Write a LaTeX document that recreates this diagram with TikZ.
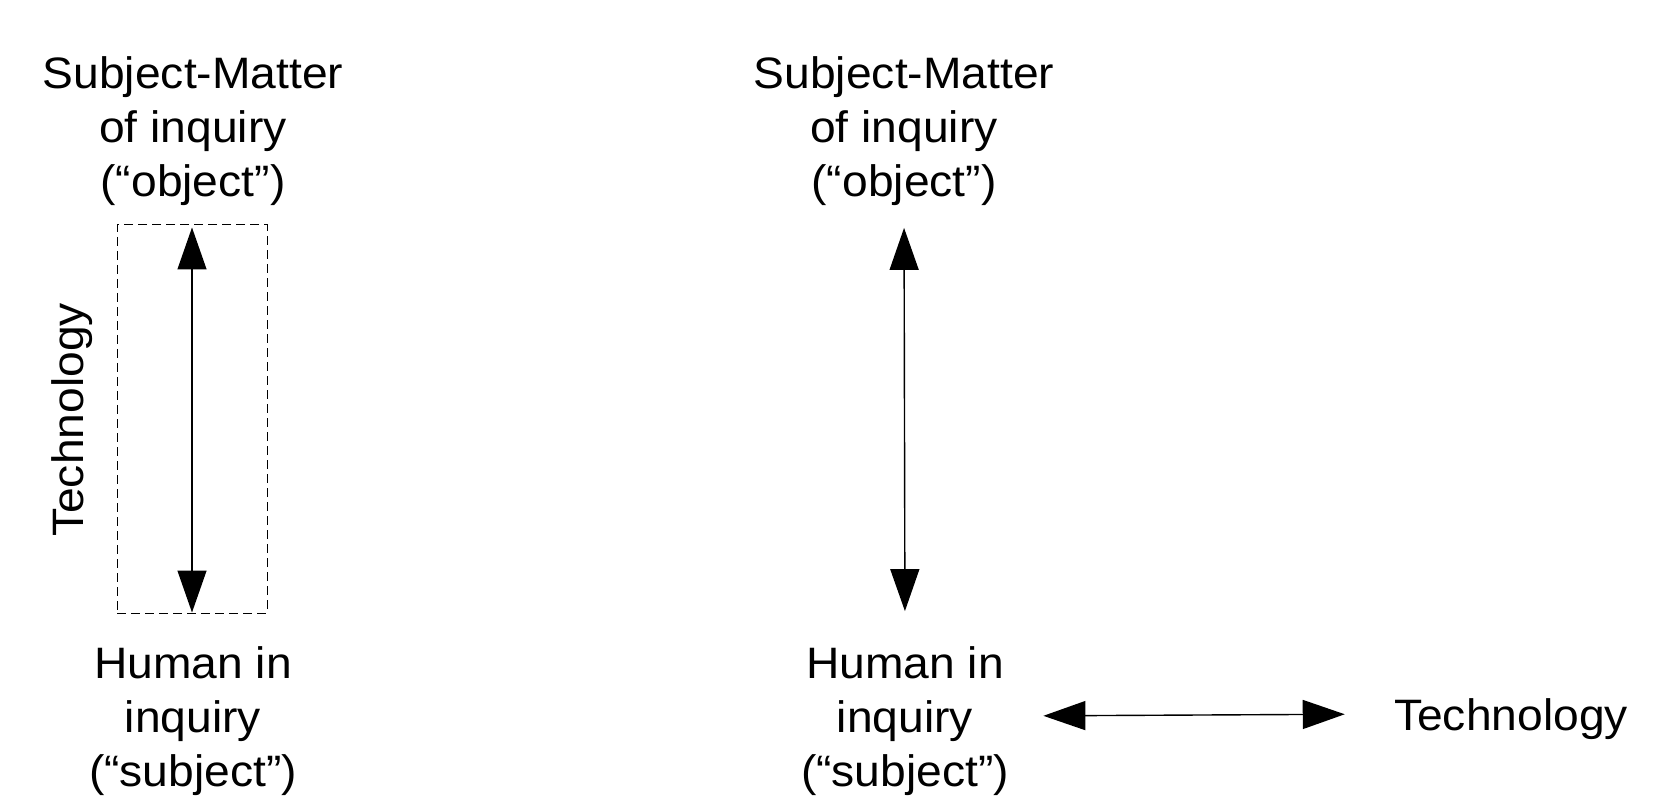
\documentclass[tikz,border=0pt]{standalone}
\usepackage{fontspec}
\setmainfont[FakeStretch=1.05]{Liberation Sans}
\usetikzlibrary{arrows.meta}

\begin{document}
\begin{tikzpicture}[x=0.5pt, y=-0.5pt,
  lbl/.style={align=center, inner sep=0pt, font=\fontsize{22}{27}\selectfont},
  twoway/.style={{Triangle[length=21pt, width=14.5pt]}-{Triangle[length=21pt, width=14.5pt]}, line width=0.7pt},
  techbox/.style={draw, dash pattern=on 4.5pt off 2.5pt, line width=0.5pt, minimum width=75pt, minimum height=194pt, inner sep=0pt}]

  \useasboundingbox (0,0) rectangle (1659,796);

  % Left panel
  \node[lbl] (obj1) at (193,131) {Subject-Matter\\of inquiry\\(“object”)};
  \node[lbl] (subj1) at (193,721) {Human in\\inquiry\\(“subject”)};
  \node[techbox] (box1) at (192,419) {};
  \node[lbl, rotate=90] (tech1) at (72,420) {Technology};

  % Right panel
  \node[lbl] (obj2) at (904,131) {Subject-Matter\\of inquiry\\(“object”)};
  \node[lbl] (subj2) at (905,721) {Human in\\inquiry\\(“subject”)};
  \node[lbl] (tech2) at (1511,719) {Technology};

  % vertical arrows
  \draw[twoway, shorten <=1.5pt, shorten >=0.5pt] (box1.north) -- (box1.south);
  \draw[twoway, shorten <=11pt, shorten >=17.5pt] (obj2.south) -- (subj2.north);

  % horizontal arrow
  \draw[twoway, shorten <=17pt, shorten >=24.5pt] ([yshift=2.5pt]subj2.east) -- ([yshift=2.5pt]tech2.west);

\end{tikzpicture}
\end{document}
